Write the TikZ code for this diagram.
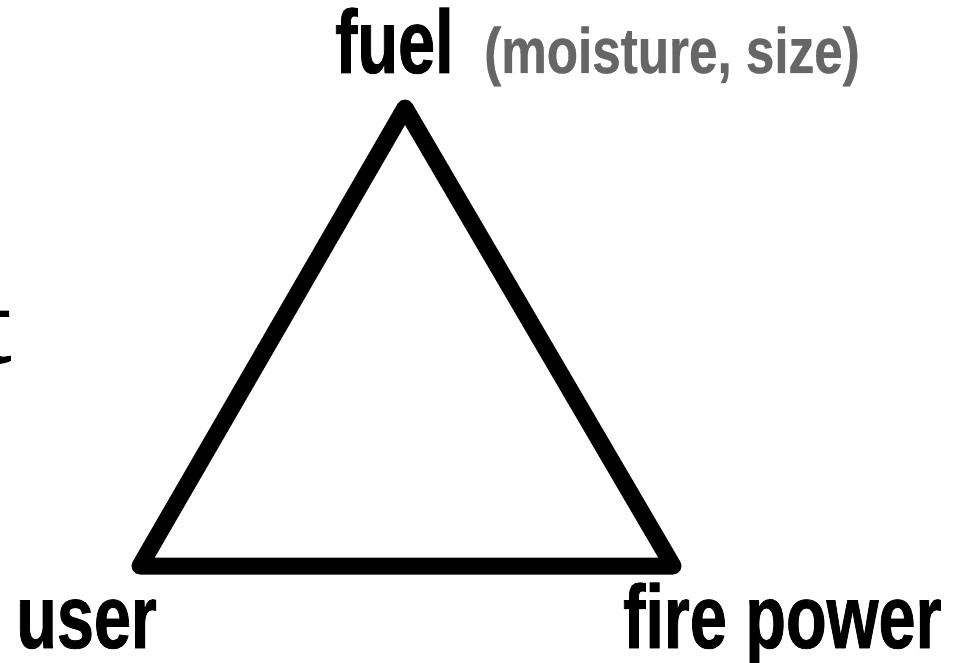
\documentclass[tikz,border=0pt]{standalone}
\usepackage{fontspec}
\newfontfamily\cond[FakeStretch=0.74,FakeBold=0.8]{Liberation Sans}
\newfontfamily\condg[FakeStretch=0.8,FakeBold=0.5]{Liberation Sans}
\newfontfamily\serift[FakeBold=1.5]{Liberation Serif}
\definecolor{greytxt}{HTML}{666666}
\tikzset{
  lbl/.style={inner sep=0pt, anchor=base west, font=\cond\bfseries\fontsize{90}{90}\selectfont},
  sub/.style={inner sep=0pt, anchor=base west, text=greytxt, font=\condg\bfseries\fontsize{64}{64}\selectfont},
  tri/.style={line width=17pt, line join=round, line cap=round}
}
\begin{document}
\begin{tikzpicture}[x=1pt,y=-1pt]
\useasboundingbox (0,0) rectangle (971,663);
\coordinate (A) at (405,108);
\coordinate (B) at (140,566);
\coordinate (C) at (673,566);
\draw[tri] (A) -- (B) -- (C) -- cycle;
\node[lbl] (fuel) at (335,73) {fuel};
\node[sub] (moist) at (484,73) {(moisture, size)};
\node[lbl] (user) at (16,648) {user};
\node[lbl] (fire) at (623,648) {fire power};
\node[inner sep=0pt, anchor=base east, font=\serift\fontsize{110}{110}\selectfont] (t) at (11,362) {t};
\end{tikzpicture}
\end{document}
